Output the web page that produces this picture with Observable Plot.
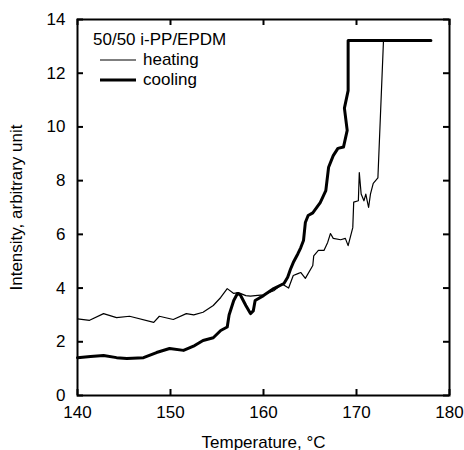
<!DOCTYPE html>
<html>
<head>
<meta charset="utf-8">
<script src="https://cdn.jsdelivr.net/npm/d3@7"></script>
<script src="https://cdn.jsdelivr.net/npm/@observablehq/plot@0.6"></script>
<style>
  html, body { margin: 0; padding: 0; background: #fff; }
</style>
</head>
<body>
<div id="chart"></div>
<script>
// ---- data ----
const legendTitle = "50/50 i-PP/EPDM";
const seriesNames = ["heating", "cooling"];

const heatT = [140.0,141.3,142.8,144.2,145.6,148.2,148.8,150.3,151.7,152.5,153.5,154.6,155.4,156.1,156.8,157.3,158.1,158.6,159.1,160.0,161.1,162.0,162.7,163.2,163.7,164.0,164.5,165.3,165.4,165.9,166.5,166.9,167.2,167.5,168.3,168.8,169.1,169.6,169.7,170.2,170.3,170.5,170.8,171.0,171.3,171.5,171.8,172.3,172.9];
const heatI = [2.85,2.8,3.05,2.9,2.95,2.72,2.95,2.83,3.05,3.0,3.1,3.35,3.65,3.98,3.8,3.83,3.72,3.7,3.72,3.75,3.9,4.15,4.0,4.47,4.54,4.58,4.36,4.84,5.2,5.4,5.4,5.7,6.03,5.85,5.8,5.85,5.58,6.25,7.2,7.25,8.3,7.5,7.25,7.5,7.0,7.5,7.9,8.1,13.2];

const coolT = [140.0,141.4,142.8,144.2,145.3,147.1,148.5,149.9,151.4,152.6,153.5,154.6,155.4,156.1,156.3,156.8,157.2,157.5,158.1,158.6,158.9,159.1,160.0,161.1,162.2,162.6,162.9,163.2,163.7,164.0,164.3,164.5,164.8,165.3,166.1,166.7,167.0,167.5,168.0,168.6,169.0,168.7,169.1,169.1,178.0];
const coolI = [1.41,1.45,1.49,1.41,1.38,1.41,1.6,1.75,1.68,1.86,2.05,2.15,2.42,2.55,3.0,3.54,3.8,3.75,3.35,3.05,3.15,3.54,3.72,3.98,4.17,4.4,4.7,4.95,5.28,5.5,5.77,6.44,6.7,6.8,7.18,7.63,8.5,8.93,9.2,9.25,9.87,10.7,11.35,13.22,13.22];

const xTicks = [140, 150, 160, 170, 180];
const yTicks = [0, 2, 4, 6, 8, 10, 12, 14];
const xLabel = "Temperature, °C";
const yLabel = "Intensity, arbitrary unit";

// ---- tables ----
const heating = heatT.map((t, i) => ({T: t, I: heatI[i]}));
const cooling = coolT.map((t, i) => ({T: t, I: coolI[i]}));

const FONT = "'Liberation Sans', Arial, Helvetica, sans-serif";
const W = 464, H = 450, ML = 77, MR = 15, MT = 19, MB = 55;
const plotW = W - ML - MR, plotH = H - MT - MB, TICK = 6;

function legend(index, scales, values, dims) {
  const g = d3.create("svg:g")
    .attr("font-family", FONT)
    .attr("font-size", 17)
    .attr("text-anchor", "start")
    .attr("fill", "black");
  const x0 = dims.marginLeft, y0 = dims.marginTop;
  g.append("text").attr("x", x0 + 16).attr("y", y0 + 26).text(legendTitle);
  const widths = [1.2, 3];
  seriesNames.forEach((name, i) => {
    const yy = y0 + 41 + i * 20;
    g.append("line")
      .attr("x1", x0 + 23).attr("x2", x0 + 59)
      .attr("y1", yy).attr("y2", yy)
      .attr("stroke", "black").attr("stroke-width", widths[i]);
    g.append("text").attr("x", x0 + 66).attr("y", yy + 4.5).text(name);
  });
  return g.node();
}

const chart = Plot.plot({
  width: W,
  height: H,
  marginLeft: ML,
  marginRight: MR,
  marginTop: MT,
  marginBottom: MB,
  style: {fontFamily: FONT, fontSize: "17px", color: "black", background: "white"},
  x: {domain: [140, 180]},
  y: {domain: [0, 14]},
  marks: [
    Plot.axisX({anchor: "bottom", ticks: xTicks, tickSize: 0, tickPadding: 10,
      label: xLabel, labelAnchor: "center", labelOffset: 52, labelArrow: false}),
    Plot.axisY({anchor: "left", ticks: yTicks, tickSize: 0, tickPadding: 12,
      label: yLabel, labelAnchor: "center", labelOffset: 68, labelArrow: false}),
    // inward ticks on all four sides
    Plot.ruleX(xTicks, {x: d => d, stroke: "black", strokeWidth: 2, insetTop: plotH - TICK}),
    Plot.ruleX(xTicks, {x: d => d, stroke: "black", strokeWidth: 2, insetBottom: plotH - TICK}),
    Plot.ruleY(yTicks, {y: d => d, stroke: "black", strokeWidth: 2, insetRight: plotW - TICK}),
    Plot.ruleY(yTicks, {y: d => d, stroke: "black", strokeWidth: 2, insetLeft: plotW - TICK}),
    Plot.line(heating, {x: "T", y: "I", stroke: "black", strokeWidth: 1.2}),
    Plot.line(cooling, {x: "T", y: "I", stroke: "black", strokeWidth: 3, strokeLinejoin: "round"}),
    Plot.frame({stroke: "black", strokeWidth: 2}),
    legend
  ]
});
document.getElementById("chart").appendChild(chart);
</script>
</body>
</html>
